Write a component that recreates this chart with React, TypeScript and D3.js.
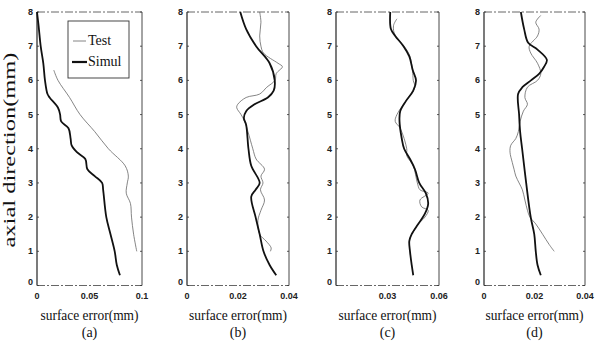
import React from "react";
import * as d3 from "d3";

const axialTicks = [0, 1, 2, 3, 4, 5, 6, 7, 8];

// Panel (a)
const aSimulY = [8, 7.6, 7.0, 6.5, 6.0, 5.6, 5.5, 5.2, 5.0, 4.8, 4.6, 4.3, 4.1, 3.9, 3.7, 3.4, 3.2, 3.0, 2.8, 2.0, 1.5, 1.0, 0.6, 0.3];
const aSimulX = [0.0, 0.0015, 0.0035, 0.006, 0.0076, 0.010, 0.012, 0.020, 0.022, 0.023, 0.030, 0.032, 0.033, 0.038, 0.046, 0.048, 0.055, 0.062, 0.063, 0.066, 0.070, 0.074, 0.076, 0.079];
const aTestY = [6.3, 6.0, 5.5, 5.0, 4.5, 4.0, 3.5, 3.2, 3.0, 2.7, 2.4, 2.0, 1.5, 1.0];
const aTestX = [0.016, 0.020, 0.031, 0.041, 0.055, 0.068, 0.084, 0.087, 0.086, 0.085, 0.089, 0.090, 0.092, 0.095];

// Panel (b)
const bSimulY = [8, 7.5, 7.0, 6.5, 6.0, 5.7, 5.5, 5.3, 5.1, 4.9, 4.7, 4.0, 3.5, 3.0, 2.8, 2.6, 2.0, 1.5, 1.0, 0.6, 0.3];
const bSimulX = [0.0209, 0.0232, 0.0271, 0.0324, 0.0344, 0.034, 0.0317, 0.0265, 0.0232, 0.0223, 0.0232, 0.0241, 0.0252, 0.0285, 0.0269, 0.0252, 0.0269, 0.0285, 0.030, 0.0324, 0.035];
const bTestY = [8, 7.7, 7.3, 7.0, 6.8, 6.5, 6.4, 6.2, 6.0, 5.8, 5.6, 5.5, 5.3, 5.2, 5.0, 4.8, 4.5, 4.0, 3.7, 3.4, 3.2, 3.0, 2.8, 2.5, 2.2, 1.9, 1.5, 1.3, 1.1, 1.0];
const bTestX = [0.0285, 0.029, 0.0285, 0.029, 0.030, 0.0357, 0.0374, 0.035, 0.0345, 0.0313, 0.0285, 0.0232, 0.0199, 0.0195, 0.0212, 0.0226, 0.0239, 0.0258, 0.0271, 0.0304, 0.029, 0.0298, 0.0288, 0.0304, 0.029, 0.0278, 0.0285, 0.031, 0.033, 0.0327];

// Panel (c)
const cSimulY = [8, 7.5, 7.3, 7.0, 6.7, 6.3, 6.0, 5.7, 5.4, 5.1, 4.8, 4.3, 4.0, 3.7, 3.4, 3.0, 2.7, 2.4, 2.1, 1.8, 1.5, 1.3, 1.0, 0.6, 0.3];
const cSimulX = [0.0316, 0.032, 0.0345, 0.0393, 0.0427, 0.0447, 0.0466, 0.045, 0.0408, 0.0374, 0.037, 0.0383, 0.0397, 0.0431, 0.046, 0.0485, 0.0523, 0.0537, 0.0518, 0.0479, 0.0441, 0.0427, 0.0431, 0.0441, 0.045];
const cTestY = [7.8, 7.6, 7.3, 7.0, 6.7, 6.2, 6.0, 5.8, 5.5, 5.0, 4.8, 4.6, 4.0, 3.8, 3.5, 3.0, 2.8, 2.7, 2.5, 2.3, 2.2, 2.0, 1.8, 1.5];
const cTestX = [0.0355, 0.0335, 0.0345, 0.0397, 0.0431, 0.0447, 0.045, 0.0460, 0.0422, 0.0355, 0.0345, 0.0374, 0.0412, 0.0412, 0.045, 0.0474, 0.0489, 0.0537, 0.0489, 0.0499, 0.0537, 0.0518, 0.0479, 0.0441];

// Panel (d)
const dSimulY = [8, 7.5, 7.1, 6.9, 6.6, 6.4, 6.2, 6.0, 5.8, 5.6, 5.0, 4.5, 4.0, 3.0, 2.0, 1.5, 1.0, 0.6, 0.3];
const dSimulX = [0.0146, 0.0159, 0.0175, 0.0212, 0.0249, 0.0238, 0.0219, 0.0186, 0.0152, 0.0135, 0.0139, 0.0143, 0.0151, 0.0167, 0.0185, 0.0199, 0.0205, 0.0212, 0.0225];
const dTestY = [7.9, 7.7, 7.5, 7.3, 7.0, 6.8, 6.5, 6.2, 6.0, 5.8, 5.5, 5.3, 5.1, 4.8, 4.5, 4.3, 4.1, 3.9, 3.6, 3.4, 3.2, 3.0, 2.8, 2.5, 2.2, 2.0, 1.8, 1.5, 1.2, 1.0];
const dTestX = [0.0225, 0.0205, 0.0218, 0.0212, 0.0179, 0.0185, 0.0212, 0.0225, 0.0212, 0.0172, 0.0162, 0.0172, 0.0156, 0.0143, 0.0136, 0.0126, 0.0106, 0.0103, 0.0112, 0.0119, 0.0126, 0.0139, 0.0152, 0.0162, 0.0172, 0.0182, 0.0205, 0.0232, 0.0258, 0.0278];

const legendLabels = ["Test", "Simul"];

interface Panel {
  id: string;
  x0: number;
  x1: number;
  domainMax: number;
  xTicks: number[];
  xTickLabels: string[];
  simulX: number[];
  simulY: number[];
  testX: number[];
  testY: number[];
}

const panels: Panel[] = [
  { id: "(a)", x0: 37, x1: 142, domainMax: 0.1, xTicks: [0, 0.05, 0.1], xTickLabels: ["0", "0.05", "0.1"], simulX: aSimulX, simulY: aSimulY, testX: aTestX, testY: aTestY },
  { id: "(b)", x0: 187, x1: 289, domainMax: 0.04, xTicks: [0, 0.02, 0.04], xTickLabels: ["0", "0.02", "0.04"], simulX: bSimulX, simulY: bSimulY, testX: bTestX, testY: bTestY },
  { id: "(c)", x0: 336, x1: 439, domainMax: 0.06, xTicks: [0.03, 0.06], xTickLabels: ["0.03", "0.06"], simulX: cSimulX, simulY: cSimulY, testX: cTestX, testY: cTestY },
  { id: "(d)", x0: 484, x1: 585, domainMax: 0.04, xTicks: [0, 0.02, 0.04], xTickLabels: ["0", "0.02", "0.04"], simulX: dSimulX, simulY: dSimulY, testX: dTestX, testY: dTestY },
];

const TOP = 12;
const BOTTOM = 285.5;
const serif = "Liberation Serif";
const sans = "Liberation Sans";

function PanelView({ p, showLegend }: { p: Panel; showLegend: boolean }) {
  const x = d3.scaleLinear().domain([0, p.domainMax]).range([p.x0, p.x1]);
  const y = d3.scaleLinear().domain([0, 8]).range([BOTTOM, TOP]);
  const line = d3
    .line<[number, number]>()
    .x((d) => x(d[0]))
    .y((d) => y(d[1]))
    .curve(d3.curveCatmullRom.alpha(0.5));
  const simul = line(p.simulX.map((v, i) => [v, p.simulY[i]] as [number, number])) || "";
  const test = line(p.testX.map((v, i) => [v, p.testY[i]] as [number, number])) || "";
  const cx = (p.x0 + p.x1) / 2;
  return (
    <g>
      <line x1={p.x0} x2={p.x0} y1={TOP} y2={BOTTOM} stroke="#222" strokeWidth={1.2} />
      <line x1={p.x1} x2={p.x1} y1={TOP} y2={BOTTOM} stroke="#333" strokeWidth={0.9} />
      <line x1={p.x0} x2={p.x1} y1={TOP} y2={TOP} stroke="#555" strokeWidth={0.9} strokeDasharray="8,2,2,2" />
      <line x1={p.x0} x2={p.x1} y1={BOTTOM} y2={BOTTOM} stroke="#555" strokeWidth={0.9} strokeDasharray="8,2,2,2" />
      {axialTicks.map((t) => (
        <g key={t}>
          <line x1={p.x0} x2={p.x0 + 2} y1={y(t)} y2={y(t)} stroke="#333" strokeWidth={0.8} />
          <line x1={p.x1} x2={p.x1 - 2} y1={y(t)} y2={y(t)} stroke="#333" strokeWidth={0.8} />
          <text
            x={p.x0 - 4}
            y={y(t) + (t === 0 ? -1 : 3)}
            textAnchor="end"
            fontFamily={sans}
            fontWeight="bold"
            fontSize={9}
            fill="#222"
          >
            {t}
          </text>
        </g>
      ))}
      {p.xTicks.map((t, i) => (
        <text key={t} x={x(t)} y={299} textAnchor="middle" fontFamily={sans} fontWeight="bold" fontSize={9} fill="#222">
          {p.xTickLabels[i]}
        </text>
      ))}
      <path d={test} fill="none" stroke="#666" strokeWidth={0.8} />
      <path d={simul} fill="none" stroke="#111" strokeWidth={1.8} />
      <text x={cx} y={320} textAnchor="middle" fontFamily={serif} fontSize={14} textLength={98} lengthAdjust="spacingAndGlyphs" fill="#111">
        surface error(mm)
      </text>
      <text x={cx} y={337} textAnchor="middle" fontFamily={serif} fontSize={14} fill="#111">
        {p.id}
      </text>
      {showLegend && (
        <g>
          <rect x={68} y={21} width={61} height={57} fill="#fff" stroke="#333" strokeWidth={0.9} />
          <line x1={73} x2={86} y1={41} y2={41} stroke="#666" strokeWidth={0.8} />
          <text x={88} y={45} fontFamily={serif} fontSize={14} fill="#111">
            {legendLabels[0]}
          </text>
          <line x1={72} x2={87} y1={62} y2={62} stroke="#111" strokeWidth={2.2} />
          <text x={88} y={66} fontFamily={serif} fontSize={14} fill="#111">
            {legendLabels[1]}
          </text>
        </g>
      )}
    </g>
  );
}

export default function App() {
  return (
    <svg width={597} height={342} style={{ position: "absolute", left: 0, top: 0, background: "#fff" }}>
      <rect x={0} y={0} width={597} height={342} fill="#fff" />
      {panels.map((p, i) => (
        <PanelView key={p.id} p={p} showLegend={i === 0} />
      ))}
      <text
        transform="translate(15,150) rotate(-90)"
        textAnchor="middle"
        fontFamily={serif}
        fontSize={16}
        textLength={195}
        lengthAdjust="spacingAndGlyphs"
        fill="#111"
      >
        axial direction(mm)
      </text>
    </svg>
  );
}
